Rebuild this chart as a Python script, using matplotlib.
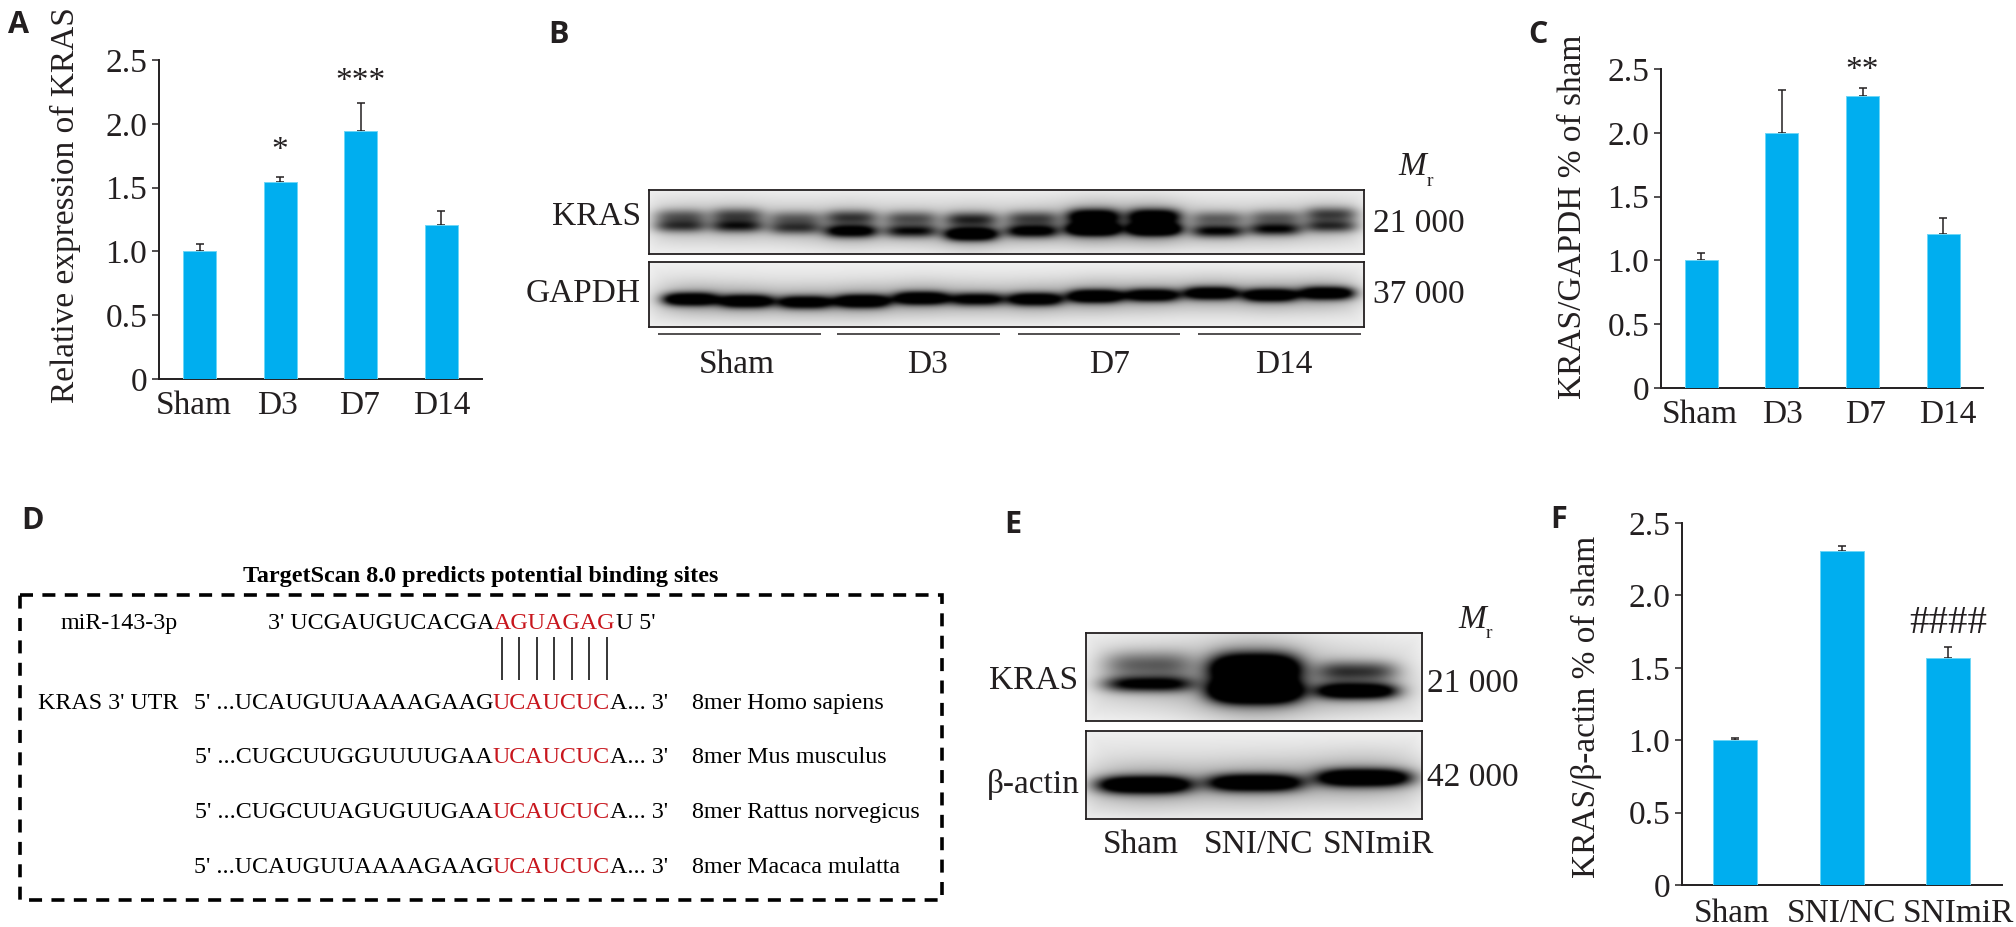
import numpy as np
import matplotlib
matplotlib.use("Agg")
import matplotlib.pyplot as plt
from matplotlib.patches import Rectangle
from matplotlib.transforms import ScaledTranslation

W, H = 2016, 927
INK = "#231F20"
BLUE = "#00AEEF"
RED = "#C8161D"
SERIF = "Liberation Serif"
FS = 24
plt.rcParams["font.family"] = [SERIF, "DejaVu Serif"]

# ---- data -------------------------------------------------------------
a_labels = ["Sham", "D3", "D7", "D14"]
a_values = [1.00, 1.54, 1.94, 1.21]
a_errors = [0.055, 0.045, 0.22, 0.105]
a_marks = ["", "*", "***", ""]

c_labels = ["Sham", "D3", "D7", "D14"]
c_values = [1.00, 2.00, 2.29, 1.21]
c_errors = [0.055, 0.335, 0.06, 0.12]
c_marks = ["", "", "**", ""]

f_labels = ["Sham", "SNI/NC", "SNImiR"]
f_values = [1.00, 2.31, 1.57]
f_errors = [0.015, 0.03, 0.075]
f_marks = ["", "", "####"]

y_ticks = [0, 0.5, 1.0, 1.5, 2.0, 2.5]
y_tick_labels = ["0", "0.5", "1.0", "1.5", "2.0", "2.5"]

# blot band intensities per lane
b_kras_upper = [0.40, 0.46, 0.36, 0.50, 0.42, 0.55, 0.45, 0.95, 0.95, 0.36, 0.36, 0.50]
b_kras_lower = [0.52, 0.62, 0.50, 0.92, 0.68, 1.20, 0.85, 1.35, 1.35, 0.72, 0.70, 0.55]
b_gapdh = [1.25, 1.20, 1.10, 1.30, 1.25, 0.95, 1.15, 1.30, 1.10, 1.15, 1.20, 1.20]
e_kras_upper = [0.42, 1.50, 0.55]
e_kras_lower = [0.85, 1.80, 1.20]
e_actin = [1.35, 1.25, 1.35]

seq_rows = [
    ("5' ...UCAUGUUAAAAGAAG", "UCAUCUC", "A... 3'", "8mer Homo sapiens"),
    ("5' ...CUGCUUGGUUUUGAA", "UCAUCUC", "A... 3'", "8mer Mus musculus"),
    ("5' ...CUGCUUAGUGUUGAA", "UCAUCUC", "A... 3'", "8mer Rattus norvegicus"),
    ("5' ...UCAUGUUAAAAGAAG", "UCAUCUC", "A... 3'", "8mer Macaca mulatta"),
]

# ---- frame ------------------------------------------------------------
fig = plt.figure(figsize=(W / 100, H / 100), dpi=100, facecolor="white")


def px_axes(x0, y0, x1, y1, **kw):
    return fig.add_axes([x0 / W, 1 - y1 / H, (x1 - x0) / W, (y1 - y0) / H], **kw)


ov = px_axes(0, 0, W, H)
ov.set_xlim(0, W)
ov.set_ylim(H, 0)
ov.axis("off")


def txt(x, y, s, size=FS, ha="left", color=INK, **kw):
    return ov.text(x, y, s, fontsize=size, ha=ha, va="baseline", color=color, **kw)


# ---- bar panels -------------------------------------------------------
def bar_panel(box, first, step, width, labels, values, errors, marks, ylabel,
              ylab_xy, pad, label_dx, mark_dy, mark_size=FS):
    x0, y0, x1, y1 = box
    ax = px_axes(x0, y0, x1, y1)
    ax.patch.set_alpha(0)
    xs = np.arange(len(values))
    ax.set_xlim((x0 - first) / step, (x1 - first) / step)
    ax.set_ylim(0, 2.5)
    ax.errorbar(xs, values, yerr=[np.zeros(len(values)), errors], fmt="none",
                ecolor=INK, elinewidth=1.1, capsize=3.2, capthick=1.1, zorder=2)
    ax.bar(xs, values, width / step, color=BLUE, edgecolor="#6FD6F6", linewidth=0.7, zorder=3)
    for s in ("top", "right"):
        ax.spines[s].set_visible(False)
    for s in ("left", "bottom"):
        ax.spines[s].set_linewidth(1.4)
        ax.spines[s].set_color(INK)
    ax.set_yticks(y_ticks, y_tick_labels, fontsize=FS, color=INK)
    ax.tick_params(axis="y", length=5.2, width=1.1, pad=3.2, color=INK)
    ax.set_xticks(xs, labels, fontsize=FS, color=INK)
    ax.tick_params(axis="x", length=0, pad=pad)
    for lab, dx in zip(ax.get_xticklabels(), label_dx):
        lab.set_transform(lab.get_transform() + ScaledTranslation(dx / 100, 0, fig.dpi_scale_trans))
    ax.set_ylabel(ylabel, fontsize=FS, color=INK, rotation=90, ha="center",
                  va="baseline", rotation_mode="anchor")
    ax.yaxis.set_label_coords(ylab_xy[0], ylab_xy[1], transform=ov.transData)
    for x, v, e, m, dy in zip(xs, values, errors, marks, mark_dy):
        if m:
            ax.annotate(m, xy=(x, v + e), xytext=(0, dy), textcoords="offset pixels",
                        ha="center", va="baseline", fontsize=mark_size, color=INK,
                        annotation_clip=False)
    return ax


bar_panel((159, 60, 482, 379), 199.5, 80.5, 33, a_labels, a_values, a_errors, a_marks,
          "Relative expression of KRAS", (74, 205), 8, [-5.5, -2.5, -1.5, 1], [0, 18, 13, 0])
bar_panel((1661, 69, 1983, 388), 1701, 80.8, 33, c_labels, c_values, c_errors, c_marks,
          "KRAS/GAPDH % of sham", (1581, 217), 8, [-1, 1, 2.5, 4.5], [0, 0, 9, 0])
bar_panel((1682, 523, 2002, 885), 1735, 106.5, 44, f_labels, f_values, f_errors, f_marks,
          "KRAS/\u03b2-actin % of sham", (1595, 707), 10, [-3, 0, 10], [0, 0, 14], mark_size=28)


# ---- blots ------------------------------------------------------------
def smooth(arr, sigma, axis):
    r = int(3 * sigma)
    k = np.exp(-0.5 * (np.arange(-r, r + 1) / sigma) ** 2)
    k /= k.sum()
    pad = [(r, r) if i == axis else (0, 0) for i in range(2)]
    padded = np.pad(arr, pad, mode="edge")
    return np.apply_along_axis(lambda v: np.convolve(v, k, mode="valid"), axis, padded)


def blot(box, centers, half_w, bands, bg=0.055, halo=0.20):
    """bands: list per lane of (intensity, row, sigma)."""
    x0, y0, x1, y1 = box
    xx, yy = np.meshgrid(np.arange(x0, x1, 0.5), np.arange(y0, y1, 0.5))
    d = np.full(xx.shape, bg)
    rim = np.minimum.reduce([xx - x0, x1 - xx, yy - y0, y1 - yy])
    d += 0.05 * (1 - np.exp(-rim / 14.0))
    for c, w, lane in zip(centers, half_w, bands):
        fx = np.exp(-(np.abs(xx - c) / w) ** 3.5)
        wide = np.exp(-((xx - c) / (1.4 * w)) ** 2)
        for amp, row, sig in lane:
            d += fx * amp * np.exp(-((yy - row) / sig) ** 2)
            d += wide * halo * amp * np.exp(-((yy - row) / (sig * 2.8)) ** 2)
    d = np.clip(d, 0, 1)
    d = smooth(smooth(d, 3.0, 1), 2.0, 0)
    ax = px_axes(x0, y0, x1, y1)
    ax.imshow(1 - d, cmap="gray", vmin=0, vmax=1, aspect="auto", interpolation="bilinear")
    ax.set_xticks([])
    ax.set_yticks([])
    for s in ax.spines.values():
        s.set_linewidth(1.3)
        s.set_color(INK)
    return ax


# panel B
kras_lanes_b = [680, 737, 795, 851, 911, 971, 1032, 1093, 1154, 1218, 1275, 1331]
gapdh_lanes_b = [690, 746, 805, 862, 921, 977, 1035, 1095, 1152, 1211, 1270, 1327]
kras_low_rows = [226, 226, 228, 231, 231, 234, 231, 229, 229, 231, 229, 226]
kras_up_rows = [216, 215, 218, 217, 218, 219, 218, 216, 216, 218, 217, 214]
gapdh_rows = [299, 301, 302, 301, 298, 299, 299, 296, 295, 293, 295, 293]
blot((649, 190, 1364, 254), kras_lanes_b, [26] * 12,
     [[(u, ru, 7.0), (l, rl, 6.0)] for u, l, ru, rl in
      zip(b_kras_upper, b_kras_lower, kras_up_rows, kras_low_rows)])
blot((649, 262, 1364, 327), gapdh_lanes_b, [27] * 12,
     [[(g, r, 6.0)] for g, r in zip(b_gapdh, gapdh_rows)])
txt(641, 225, "KRAS", ha="right")
txt(641, 302, "GAPDH", ha="right")
txt(1373, 232, "21 000")
txt(1373, 303, "37 000")
txt(1398, 175, "M", style="italic")
txt(1427, 186, "r", size=14)
for x_a, x_b in [(658, 821), (837, 1000), (1018, 1180), (1198, 1361)]:
    ov.plot([x_a, x_b], [334, 334], color=INK, lw=1.1, solid_capstyle="butt")
for x, s in zip([737, 927, 1110, 1284], a_labels):
    txt(x, 373, s, ha="center")

# panel E
blot((1086, 633, 1422, 721), [1148, 1255, 1357], [44, 44, 40],
     [[(e_kras_upper[0], 664, 13), (e_kras_lower[0], 684, 7.5)],
      [(e_kras_upper[1], 668, 14), (e_kras_lower[1], 691, 11)],
      [(e_kras_upper[2], 671, 10), (e_kras_lower[2], 691, 7.5)]], halo=0.14)
blot((1086, 731, 1422, 819), [1144, 1255, 1364], [46, 46, 46],
     [[(e_actin[0], 785, 8)], [(e_actin[1], 783, 8)], [(e_actin[2], 778, 8)]], halo=0.20)
txt(1078, 689, "KRAS", ha="right")
txt(1080, 793, "\u03b2-actin", ha="right")
txt(1427, 692, "21 000")
txt(1427, 786, "42 000")
txt(1458, 628, "M", style="italic")
txt(1486, 638, "r", size=14)
for x, s in zip([1141, 1259, 1378], f_labels):
    txt(x, 853, s, ha="center")

# ---- panel D ----------------------------------------------------------
ov.add_patch(Rectangle((19.5, 595), 922, 305, fill=False, edgecolor="black", lw=2.6,
                       linestyle=(0, (3.6, 2.6))))
txt(481, 582, "TargetScan 8.0 predicts potential binding sites", size=17.4,
    ha="center", weight="bold", color="black")

SEQ = 17.3
fig.canvas.draw()
rend = fig.canvas.get_renderer()


def seq_line(x_red, y, before, red, after):
    txt(x_red, y, before, size=SEQ, ha="right", color="black")
    t = txt(x_red, y, red, size=SEQ, color=RED)
    x_end = ov.transData.inverted().transform(t.get_window_extent(rend).extents[2:])[0]
    txt(x_end, y, after, size=SEQ, color="black")


txt(61, 629, "miR-143-3p", size=SEQ, color="black")
seq_line(494, 629, "3' UCGAUGUCACGA", "AGUAGAG", "U 5'")
txt(38, 709, "KRAS 3' UTR", size=SEQ, color="black")
for (before, red, after, species), y in zip(seq_rows, [709, 763, 818, 873]):
    seq_line(493, y, before, red, after)
    txt(692, y, species, size=SEQ, color="black")
for x in np.linspace(501.5, 606.7, 7):
    ov.plot([x, x], [637, 680], color="black", lw=1.1, solid_capstyle="butt")

# ---- panel letters ----------------------------------------------------
for (x, y, s) in [(8, 33, "A"), (548, 43, "B"), (1528, 43, "C"), (21, 529, "D"),
                  (1004, 533, "E"), (1550, 528, "F")]:
    ov.text(x, y, s, fontsize=22, weight="bold", family="Open Sans", color=INK,
            ha="left", va="baseline")

fig.savefig("out.png", dpi=100)
